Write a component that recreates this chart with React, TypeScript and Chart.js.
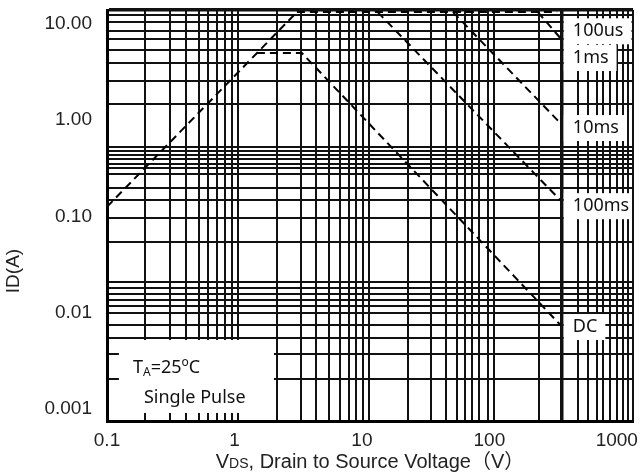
import React, { useEffect, useRef } from 'react';
import { Chart, registerables } from 'chart.js';

Chart.register(...registerables);

// Axis ranges
const X_MIN = 0.1;
const X_MAX = 1340;
const Y_MIN = 0.00075;
const Y_MAX = 13.98;

// Tick labels
const xTickValues = [0.1, 1, 10, 100, 1000];
const xTickLabels = ['0.1', '1', '10', '100', '1000'];
const yTickValues = [0.001, 0.01, 0.1, 1, 10];
const yTickLabels = ['0.001', '0.01', '0.10', '1.00', '10.00'];

// Grid lines (irregular datasheet grid)
const xGridValues = [
  0.2, 0.31, 0.42, 0.53, 0.62, 0.73, 0.84, 0.96, 1.07,
  2.15, 3.3, 4.4, 5.5, 6.7, 7.9, 9.0, 10.2, 11.4,
  23, 35, 46, 56, 64, 73, 83, 97, 108,
  244, 370, 500, 590, 700, 780, 880, 1000, 1115, 1220,
];
const xHeavyGrid = [370];
const yGridValues = [
  12.4, 10.5, 8.5, 7.0, 5.4, 3.9, 2.56, 1.48,
  0.527, 0.479, 0.435, 0.396, 0.351, 0.319, 0.277, 0.198, 0.148, 0.096, 0.054,
  0.0209, 0.0181, 0.0157, 0.0136, 0.0118, 0.0099, 0.0075, 0.0055, 0.0037, 0.00205,
];

// SOA boundary curves: [VDS (V), ID (A)]
const rdsOnLimit = [[0.1, 0.126], [3.09, 13.3]];
const currentLimit = [[3.09, 13.3], [340, 13.3]];
const dcLimit = [[1.5, 5.0], [3.38, 5.0], [360, 0.0075]];
const pulse100ms = [[13.3, 13.3], [360, 0.148]];
const pulse10ms = [[51.8, 13.3], [360, 0.936]];
const pulse100us = [[240, 13.3], [360, 7.16]];

// Curve labels at the right edge
const curveLabelText = ['100us', '1ms', '10ms', '100ms', 'DC'];
const curveLabelCurrent = [8.4, 4.43, 0.83, 0.128, 0.0071];
const curveLabelVoltage = 452;

// Note box (bottom-left)
const noteBoxV = [0.124, 2.04];
const noteBoxI = [0.00521, 0.000909];
const noteLine1 = { v: 0.16, i: 0.00273 };
const noteLine2 = { v: 0.195, i: 0.00133, text: 'Single Pulse' };

const ARIAL = '"Liberation Sans", Arial, "Noto Sans CJK SC", sans-serif';
const CAL = '"Noto Sans", "Open Sans", sans-serif';

const near = (a: number, b: number) => Math.abs(Math.log10(a) - Math.log10(b)) < 1e-6;
const inList = (v: number, list: number[]) => list.some((g) => near(g, v));

function buildTicks(grid: number[], labels: number[], max: number) {
  const all: number[] = [...grid];
  labels.forEach((v) => { if (!inList(v, all)) all.push(v); });
  if (!inList(max, all)) all.push(max);
  return all.sort((a, b) => a - b).map((v) => ({ value: v }));
}

const toXY = (arr: number[][]) => arr.map(([x, y]) => ({ x, y }));

const overlayPlugin = {
  id: 'overlay',
  beforeDatasetsDraw(chart: any) {
    const { ctx, chartArea } = chart;
    const xs = chart.scales.x;
    const ys = chart.scales.y;
    ctx.save();
    // bottom-left note box
    const bx0 = xs.getPixelForValue(noteBoxV[0]);
    const bx1 = xs.getPixelForValue(noteBoxV[1]);
    const by0 = ys.getPixelForValue(noteBoxI[0]);
    const by1 = ys.getPixelForValue(noteBoxI[1]);
    ctx.fillStyle = '#fff';
    ctx.fillRect(bx0, by0, bx1 - bx0, by1 - by0);

    ctx.fillStyle = '#111';
    ctx.textBaseline = 'alphabetic';
    ctx.textAlign = 'left';
    // T_A=25ºC
    let x = xs.getPixelForValue(noteLine1.v);
    const y1 = ys.getPixelForValue(noteLine1.i) + 6;
    const big = `18px ${CAL}`;
    const small = `12px ${CAL}`;
    const parts: [string, string, number][] = [
      ['T', big, 0], ['A', small, 3], ['=25', big, 0], ['o', small, -7], ['C', big, 0],
    ];
    parts.forEach(([t, f, dy]) => {
      ctx.font = f;
      ctx.fillText(t, x, y1 + dy);
      x += ctx.measureText(t).width;
    });
    ctx.font = big;
    ctx.fillText(noteLine2.text, xs.getPixelForValue(noteLine2.v), ys.getPixelForValue(noteLine2.i) + 6);

    // right-side curve labels with white boxes
    const lx = xs.getPixelForValue(curveLabelVoltage);
    const boxLeft = xs.getPixelForValue(xHeavyGrid[0]) + 2;
    ctx.font = big;
    curveLabelText.forEach((t, k) => {
      const ly = ys.getPixelForValue(curveLabelCurrent[k]);
      const w = ctx.measureText(t).width;
      const right = Math.min(chartArea.right - 1, lx + w + 8);
      ctx.fillStyle = '#fff';
      ctx.fillRect(boxLeft, ly - 13, right - boxLeft, 26);
      ctx.fillStyle = '#111';
      ctx.textBaseline = 'middle';
      ctx.fillText(t, lx, ly);
    });
    ctx.restore();
  },
  afterDraw(chart: any) {
    const { ctx, chartArea } = chart;
    ctx.save();
    ctx.fillStyle = '#222';
    // x title with subscript
    const cx = (chartArea.left + chartArea.right) / 2;
    const base = 468;
    const pieces: [string, string, number][] = [
      ['V', `20px ${ARIAL}`, 0],
      ['DS', `14px ${ARIAL}`, 0],
      [', Drain to Source Voltage（V）', `20px ${ARIAL}`, 0],
    ];
    let total = 0;
    pieces.forEach(([t, f]) => { ctx.font = f; total += ctx.measureText(t).width; });
    let x = cx - total / 2;
    ctx.textBaseline = 'alphabetic';
    ctx.textAlign = 'left';
    pieces.forEach(([t, f, dy]) => {
      ctx.font = f;
      ctx.fillText(t, x, base + dy);
      x += ctx.measureText(t).width;
    });
    // y title
    ctx.translate(14, 271);
    ctx.rotate(-Math.PI / 2);
    ctx.font = `19px ${ARIAL}`;
    ctx.textAlign = 'center';
    ctx.textBaseline = 'middle';
    ctx.fillText('ID(A)', 0, 0);
    ctx.restore();
  },
};

const dashed = (data: number[][]) => ({
  data: toXY(data),
  borderColor: '#000',
  borderWidth: 2,
  borderDash: [8, 5],
  pointRadius: 0,
  fill: false,
  tension: 0,
});

export default function App() {
  const ref = useRef<HTMLCanvasElement | null>(null);
  useEffect(() => {
    if (!ref.current) return;
    const chart = new Chart(ref.current, {
      type: 'line',
      data: {
        datasets: [
          dashed(rdsOnLimit),
          dashed(currentLimit),
          dashed(dcLimit),
          dashed(pulse100ms),
          dashed(pulse10ms),
          dashed(pulse100us),
        ] as any,
      },
      options: {
        responsive: false,
        animation: false,
        devicePixelRatio: 1,
        layout: { padding: { left: 0, right: 8, top: 10, bottom: 0 } },
        plugins: { legend: { display: false }, tooltip: { enabled: false } },
        scales: {
          x: {
            type: 'logarithmic',
            min: X_MIN,
            max: X_MAX,
            afterFit: (s: any) => {
              s.height = 51;
              s.paddingLeft = 0;
              s.paddingRight = 0;
            },
            afterBuildTicks: (s: any) => { s.ticks = buildTicks(xGridValues, xTickValues, X_MAX); },
            ticks: {
              autoSkip: false,
              maxRotation: 0,
              minRotation: 0,
              padding: 8,
              color: '#222',
              font: { family: ARIAL, size: 19 },
              callback: (v: any) => {
                const i = xTickValues.findIndex((t) => near(t, Number(v)));
                return i >= 0 ? xTickLabels[i] : '';
              },
            },
            grid: {
              drawTicks: false,
              color: (c: any) => {
                const v = c.tick ? c.tick.value : 0;
                return inList(v, xGridValues) || near(v, X_MAX) ? '#111' : 'rgba(0,0,0,0)';
              },
              lineWidth: (c: any) => {
                const v = c.tick ? c.tick.value : 0;
                return inList(v, xHeavyGrid) ? 3.5 : 2;
              },
            },
            border: { display: true, color: '#000', width: 3 },
          },
          y: {
            type: 'logarithmic',
            min: Y_MIN,
            max: Y_MAX,
            afterFit: (s: any) => {
              s.width = 107;
              s.paddingTop = 0;
              s.paddingBottom = 0;
            },
            afterBuildTicks: (s: any) => { s.ticks = buildTicks(yGridValues, yTickValues, Y_MAX); },
            ticks: {
              autoSkip: false,
              padding: 15,
              color: '#222',
              font: { family: ARIAL, size: 19 },
              callback: (v: any) => {
                const i = yTickValues.findIndex((t) => near(t, Number(v)));
                return i >= 0 ? yTickLabels[i] : '';
              },
            },
            grid: {
              drawTicks: false,
              color: (c: any) => {
                const v = c.tick ? c.tick.value : 0;
                return inList(v, yGridValues) || near(v, Y_MAX) ? '#111' : 'rgba(0,0,0,0)';
              },
              lineWidth: (c: any) => {
                const v = c.tick ? c.tick.value : 0;
                return near(v, Y_MAX) ? 3.5 : 2;
              },
            },
            border: { display: true, color: '#000', width: 3 },
          },
        },
      } as any,
      plugins: [overlayPlugin],
    });
    return () => chart.destroy();
  }, []);
  return (
    <div style={{ position: 'absolute', left: 0, top: 0, width: 641, height: 472 }}>
      <canvas ref={ref} width={641} height={472} style={{ display: 'block' }} />
    </div>
  );
}
